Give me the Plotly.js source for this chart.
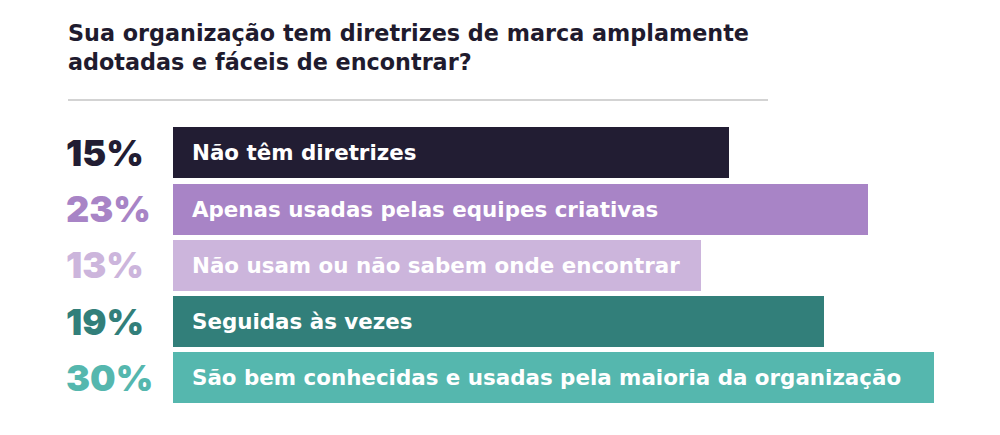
<!DOCTYPE html>
<html>
<head>
<meta charset="utf-8">
<script src="https://cdn.plot.ly/plotly-3.0.1.min.js"></script>
<style>
  html, body { margin: 0; padding: 0; background: #ffffff; }
  #chart { width: 1000px; height: 435px; }
</style>
</head>
<body>
<div id="chart"></div>
<script>
// ---- data ----
const titleText = "Sua organização tem diretrizes de marca amplamente<br>adotadas e fáceis de encontrar?";
const categories = [
  "Não têm diretrizes",
  "Apenas usadas pelas equipes criativas",
  "Não usam ou não sabem onde encontrar",
  "Seguidas às vezes",
  "São bem conhecidas e usadas pela maioria da organização"
];
const percentValues = [15, 23, 13, 19, 30];
// drawn bar lengths (the bars in the design are not proportional to the percentages)
const barLengths = [55.6, 69.5, 52.8, 65.1, 76.1];
const barColors = ["#221d33", "#a884c6", "#ccb5dc", "#327f7a", "#55b7ae"];

const LABEL_FONT = "'DejaVu Sans', sans-serif";
const PCT_FONT = "Inter, 'DejaVu Sans', sans-serif";
const yIdx = categories.map((_, i) => i);

const trace = {
  type: "bar",
  orientation: "h",
  x: barLengths,
  y: yIdx,
  width: 0.907,
  marker: { color: barColors, line: { width: 0 } },
  hoverinfo: "skip",
  showlegend: false
};

const annotations = [{
  x: 0.066, y: 1 - 18 / 435, xref: "paper", yref: "paper",
  text: titleText, showarrow: false, xanchor: "left", yanchor: "top", align: "left",
  font: { family: LABEL_FONT, size: 22.3, color: "#1f1b2e", weight: 700 }
}];
categories.forEach((c, i) => {
  annotations.push({
    x: 0, y: i, xref: "x", yref: "y",
    text: c, showarrow: false, xanchor: "left", yanchor: "middle",
    xshift: 17,
    font: { family: LABEL_FONT, size: 21.4, color: "#ffffff", weight: 700 }
  });
  annotations.push({
    x: 0.064, y: i, xref: "paper", yref: "y",
    text: percentValues[i] + "%", showarrow: false, xanchor: "left", yanchor: "middle",
    font: { family: PCT_FONT, size: 36, color: barColors[i], weight: 900 }
  });
});

const layout = {
  width: 1000, height: 435,
  margin: { l: 0, r: 0, t: 0, b: 0, pad: 0 },
  paper_bgcolor: "#ffffff", plot_bgcolor: "#ffffff",
  xaxis: {
    domain: [0.173, 1], range: [0, 82.7],
    showgrid: false, zeroline: false, showticklabels: false, showline: false, fixedrange: true
  },
  yaxis: {
    domain: [0.0667, 0.7133], range: [4.5, -0.5],
    showgrid: false, zeroline: false, showticklabels: false, showline: false, fixedrange: true
  },
  shapes: [{
    type: "line", xref: "paper", yref: "paper",
    x0: 0.068, x1: 0.768, y0: 1 - 100 / 435, y1: 1 - 100 / 435,
    line: { color: "#c4c4c4", width: 1.5 }
  }],
  annotations: annotations,
  bargap: 0
};

Plotly.newPlot("chart", [trace], layout, { displayModeBar: false, staticPlot: true });
</script>
</body>
</html>
